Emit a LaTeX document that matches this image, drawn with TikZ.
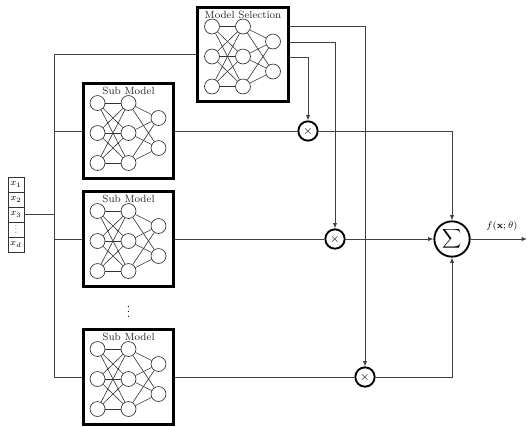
\documentclass[tikz,border=0pt]{standalone}
\usetikzlibrary{arrows.meta,calc}
\newcommand\myvdots[1]{\vbox{\baselineskip=#1 \lineskiplimit=0pt \hbox{.}\hbox{.}\hbox{.}}}
\tikzset{
  mbox/.style={draw=black,line width=2.2pt,minimum width=68pt,minimum height=71pt,inner sep=0pt,fill=white},
  ttl/.style={font=\fontsize{7.8}{8}\selectfont,inner sep=0pt,text=black!85},
  neuron/.style={circle,draw=black!80,line width=0.5pt,minimum size=11.2pt,inner sep=0pt,fill=white},
  edge/.style={draw=black!80,line width=0.45pt},
  wire/.style={draw=black!75,line width=0.6pt},
  arr/.style={wire,-{Latex[length=4pt,width=3.2pt]}},
  mult/.style={circle,draw=black,line width=1.4pt,minimum size=14.5pt,inner sep=0pt,fill=white,font=\small},
  summ/.style={circle,draw=black,line width=1.4pt,minimum size=26.5pt,inner sep=0pt,fill=white},
  cell/.style={draw=black!80,line width=0.5pt,minimum width=12pt,minimum height=11.25pt,inner sep=0pt,font=\fontsize{7.5}{8}\selectfont},
}
\newcommand\nnbox[4]{%
  \node[mbox] (#1) at (#2,#3) {};
  \node[ttl] (#1-t) at (#2,#3-40) {#4};
  \node[neuron] (#1-a1) at (#2-31,#3-28) {};
  \node[neuron] (#1-a2) at (#2-31,#3+2) {};
  \node[neuron] (#1-a3) at (#2-31,#3+32) {};
  \node[neuron] (#1-b1) at (#2,#3-28) {};
  \node[neuron] (#1-b2) at (#2,#3+2) {};
  \node[neuron] (#1-b3) at (#2,#3+32) {};
  \node[neuron] (#1-c1) at (#2+30,#3-13) {};
  \node[neuron] (#1-c2) at (#2+30,#3+17) {};
  \foreach \i in {1,2,3}{\foreach \j in {1,2,3}{\draw[edge] (#1-a\i) -- (#1-b\j);}}
  \foreach \i in {1,2,3}{\foreach \j in {1,2}{\draw[edge] (#1-b\i) -- (#1-c\j);}}
}
\begin{document}
\begin{tikzpicture}[x=0.75pt,y=-0.75pt]
\useasboundingbox (0,0) rectangle (527,426);
% input vector
\node[cell] (x1) at (16,184.5) {$x_1$};
\node[cell] (x2) at (16,199.5) {$x_2$};
\node[cell] (x3) at (16,214.5) {$x_3$};
\node[cell,font=\fontsize{6}{6}\selectfont] (xdots) at (16,229.5) {\myvdots{2.4pt}};
\node[cell] (xd) at (16,244.5) {$x_d$};
% boxes
\nnbox{ms}{243}{54.5}{Model Selection}
\nnbox{sm1}{128.5}{131}{Sub Model}
\nnbox{sm2}{128.5}{239}{Sub Model}
\nnbox{sm3}{128.5}{377}{Sub Model}
\node[inner sep=0pt,font=\small] (dots) at (128.5,312) {\myvdots{3.6pt}};
% bus
\coordinate (bt) at (54,54.5);
\coordinate (bb) at (54,377);
\draw[wire] (x3.east) -- (x3.east -| bt);
\draw[wire] (bt) -- (bb);
\draw[wire] (bt) -- (ms.west);
\draw[wire] (sm1.west -| bt) -- (sm1.west);
\draw[wire] (sm2.west -| bt) -- (sm2.west);
\draw[wire] (bb) -- (sm3.west);
% multipliers and sum
\node[mult] (m1) at (308,131) {$\times$};
\node[mult] (m2) at (335,239) {$\times$};
\node[mult] (m3) at (365,377) {$\times$};
\node[summ] (sum) at (452,239) {$\displaystyle\sum$};
\coordinate (out) at (527,239);
% selection outputs
\coordinate (o1) at (289,26);
\coordinate (o2) at (289,42);
\coordinate (o3) at (289,57);
\draw[arr] (o3) -| (m1.north);
\draw[arr] (o2) -| (m2.north);
\draw[arr] (o1) -| (m3.north);
% submodel outputs
\draw[wire] (sm1.east) -- (m1.west);
\draw[wire] (sm2.east) -- (m2.west);
\draw[wire] (sm3.east) -- (m3.west);
% to sum
\draw[arr] (m1.east) -| (sum.north);
\draw[arr] (m2.east) -- (sum.west);
\draw[arr] (m3.east) -| (sum.south);
\draw[arr] (sum.east) -- (out);
\node[font=\fontsize{7}{8}\selectfont] (lbl) at (502,226) {$f(\mathbf{x};\theta)$};
\end{tikzpicture}
\end{document}
